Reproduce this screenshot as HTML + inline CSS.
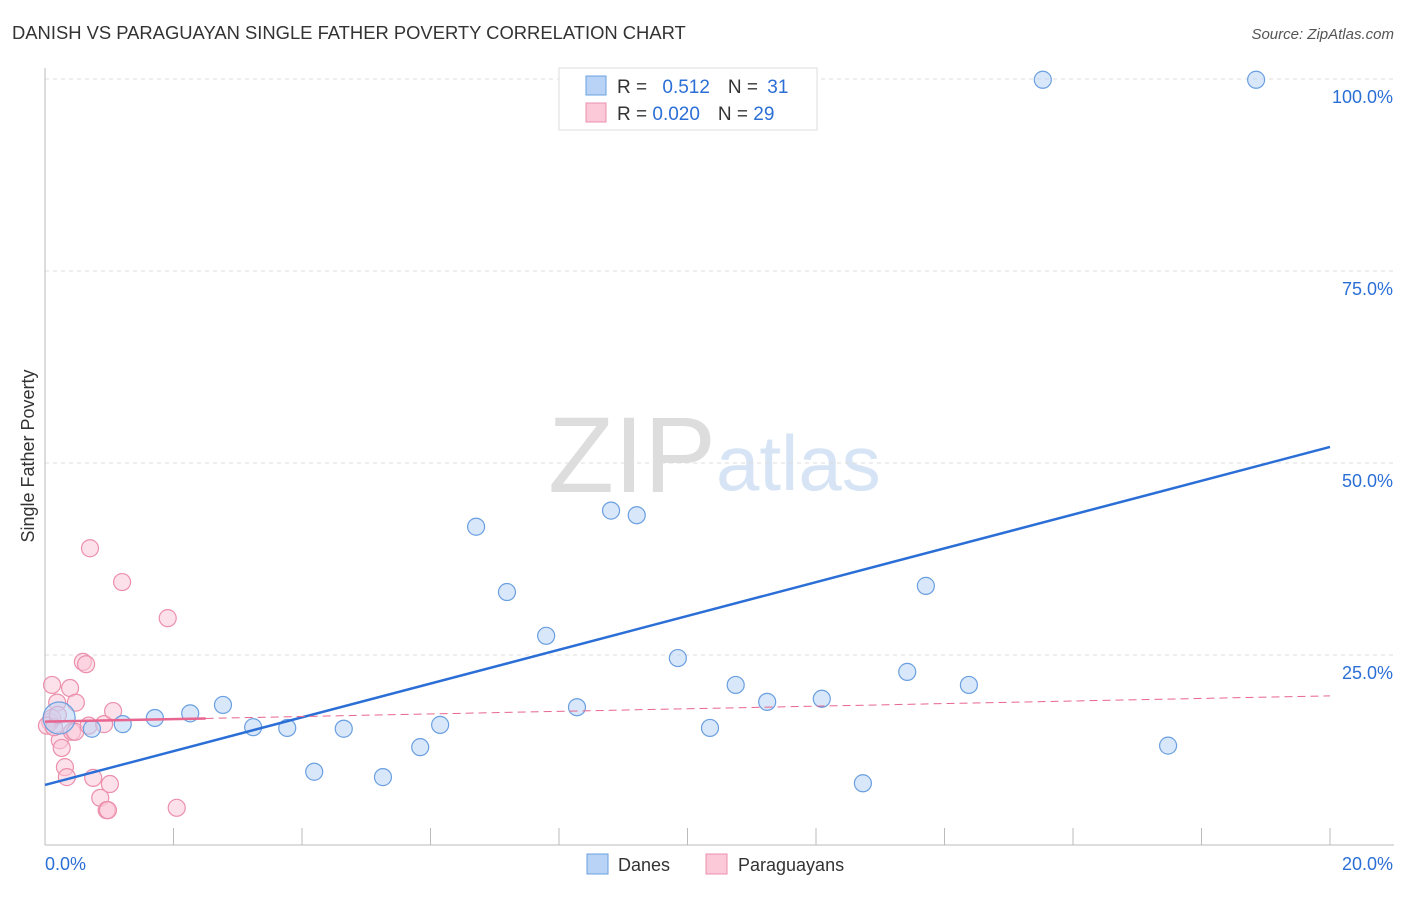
<!DOCTYPE html>
<html><head><meta charset="utf-8"><style>
body{margin:0;background:#fff;font-family:"Liberation Sans",sans-serif;}
svg text{font-family:"Liberation Sans",sans-serif;}
</style></head><body>
<svg id="c" width="1406" height="892">
<text x="12" y="39" font-size="18.4" fill="#333">DANISH VS PARAGUAYAN SINGLE FATHER POVERTY CORRELATION CHART</text>
<text x="1394" y="39" font-size="15" fill="#555" font-style="italic" text-anchor="end">Source: ZipAtlas.com</text>
<text x="34" y="456" font-size="18" fill="#333" text-anchor="middle" transform="rotate(-90 34 456)">Single Father Poverty</text>
<text x="716" y="492" font-size="108" fill="#ddd" text-anchor="end" font-family="Liberation Serif">ZIP</text>
<text x="716" y="490" font-size="78" fill="#d6e4f5">atlas</text>
<g id="grid"></g><g id="axes"></g><g id="pts"></g><g id="trend"></g>
<g>
<rect x="559" y="68" width="258" height="62" fill="#fff" stroke="#ddd"/>
<rect x="586" y="76" width="20" height="19" fill="#b8d3f5" stroke="#6a9fe0"/>
<rect x="586" y="103" width="20" height="19" fill="#fbc9d8" stroke="#ec8fac"/>
<text x="617" y="93" font-size="19" fill="#333">R = <tspan fill="#2b6fd6" dx="10">0.512</tspan><tspan dx="18" fill="#333">N = </tspan><tspan fill="#2b6fd6" dx="4">31</tspan></text>
<text x="617" y="120" font-size="19" fill="#333">R = <tspan fill="#2b6fd6">0.020</tspan><tspan dx="18" fill="#333">N = </tspan><tspan fill="#2b6fd6">29</tspan></text>
</g>
<g>
<rect x="587" y="854" width="21" height="20" fill="#b8d3f5" stroke="#6a9fe0"/>
<text x="618" y="871" font-size="18" fill="#333">Danes</text>
<rect x="706" y="854" width="21" height="20" fill="#fbc9d8" stroke="#ec8fac"/>
<text x="738" y="871" font-size="18" fill="#333">Paraguayans</text>
</g>
</svg>
<script>
const yTicks=[25,50,75,100];
const yTickLabels=["25.0%","50.0%","75.0%","100.0%"];
const xTickLabels=["0.0%","20.0%"];
const danesX=[0.22,0.73,1.21,1.71,2.26,2.77,3.24,3.77,4.19,4.65,5.26,5.84,6.15,6.71,7.19,7.80,8.28,8.81,9.21,9.85,10.35,10.75,11.24,12.09,12.73,13.42,13.71,14.38,15.53,17.48,18.85];
const danesY=[16.8,15.4,16.0,16.8,17.4,18.5,15.6,15.5,9.8,15.4,9.1,13.0,15.9,41.7,33.2,27.5,18.2,43.8,43.2,24.6,15.5,21.1,18.9,19.3,8.3,22.8,34.0,21.1,99.9,13.2,99.9];
const parX=[0.11,0.19,0.08,0.11,0.03,0.23,0.26,0.31,0.34,0.39,0.42,0.47,0.48,0.59,0.64,0.68,0.70,0.75,0.86,0.92,0.96,0.98,1.01,1.06,1.20,1.91,2.05,0.14,0.20];
const parY=[21.1,18.8,16.3,16.8,15.8,13.9,12.9,10.4,9.1,20.7,15.0,15.0,18.8,24.1,23.8,15.8,38.9,9.0,6.4,16.0,4.8,4.8,8.2,17.7,34.5,29.8,5.1,15.6,17.2];
const NS="http://www.w3.org/2000/svg";
const X=v=>45+v*64.25, Y=v=>847-v*7.68;
function mk(t,a,p){const e=document.createElementNS(NS,t);for(const k in a)e.setAttribute(k,a[k]);document.getElementById(p).appendChild(e);return e;}
yTicks.forEach((t,i)=>{
 const g=mk('line',{x1:45,x2:1394,y1:Y(t),y2:Y(t),stroke:'#ddd','stroke-dasharray':'4,4'},'grid');
 
 
 const l=mk('text',{x:1393,y:Y(t)+24,'font-size':18,fill:'#2b6fd6','text-anchor':'end'},'axes');
 l.textContent=yTickLabels[i];
 
 
});
mk('line',{x1:45,x2:45,y1:68,y2:845,stroke:'#bbb'},'axes');
mk('line',{x1:45,x2:1394,y1:845,y2:845,stroke:'#bbb'},'axes');
for(let i=0;i<=10;i++){const tk=mk('line',{x1:X(i*2),x2:X(i*2),y1:828,y2:845,stroke:'#bbb'},'axes');
 
 }
[[0,45,'start'],[20,1393,'end']].forEach((d,i)=>{const t=mk('text',{x:d[1],y:870,'font-size':18,fill:'#2b6fd6','text-anchor':d[2]},'axes');t.textContent=xTickLabels[i];
 
 });
function pts(xs,ys,fill,stroke,name){xs.forEach((x,i)=>{const r=(name==='dane-point'&&i===0)?16:8.5;
 const c=mk('circle',{cx:X(x),cy:Y(ys[i]),r:r,fill:fill,stroke:stroke,'stroke-width':1.2,'fill-opacity':0.55},'pts');
 
 });}
pts(parX,parY,'#fbc9d8','#ec8fac','paraguayan-point');
pts(danesX,danesY,'#b8d3f5','#6a9fe0','dane-point');
function fit(xs,ys){const n=xs.length;const mx=xs.reduce((a,b)=>a+b)/n,my=ys.reduce((a,b)=>a+b)/n;let sxy=0,sxx=0;xs.forEach((x,i)=>{sxy+=(x-mx)*(ys[i]-my);sxx+=(x-mx)**2;});const b=sxy/sxx;return [my-b*mx,b];}
const [ab,bb]=fit(danesX,danesY);
const bl=mk('line',{x1:X(0),y1:Y(ab),x2:X(20),y2:Y(ab+bb*20),stroke:'#2b6fd6','stroke-width':2.5},'trend');


const [ap,bp]=fit(parX,parY);
const pmax=Math.max(...parX)*1.22;
const pl=mk('line',{x1:X(0),y1:Y(ap),x2:X(pmax),y2:Y(ap+bp*pmax),stroke:'#e8658f','stroke-width':2.5},'trend');


const pd=mk('line',{x1:X(pmax),y1:Y(ap+bp*pmax),x2:X(20),y2:Y(ap+bp*20),stroke:'#e8658f','stroke-width':1,'stroke-dasharray':'8,5'},'trend');


</script>
</body></html>
